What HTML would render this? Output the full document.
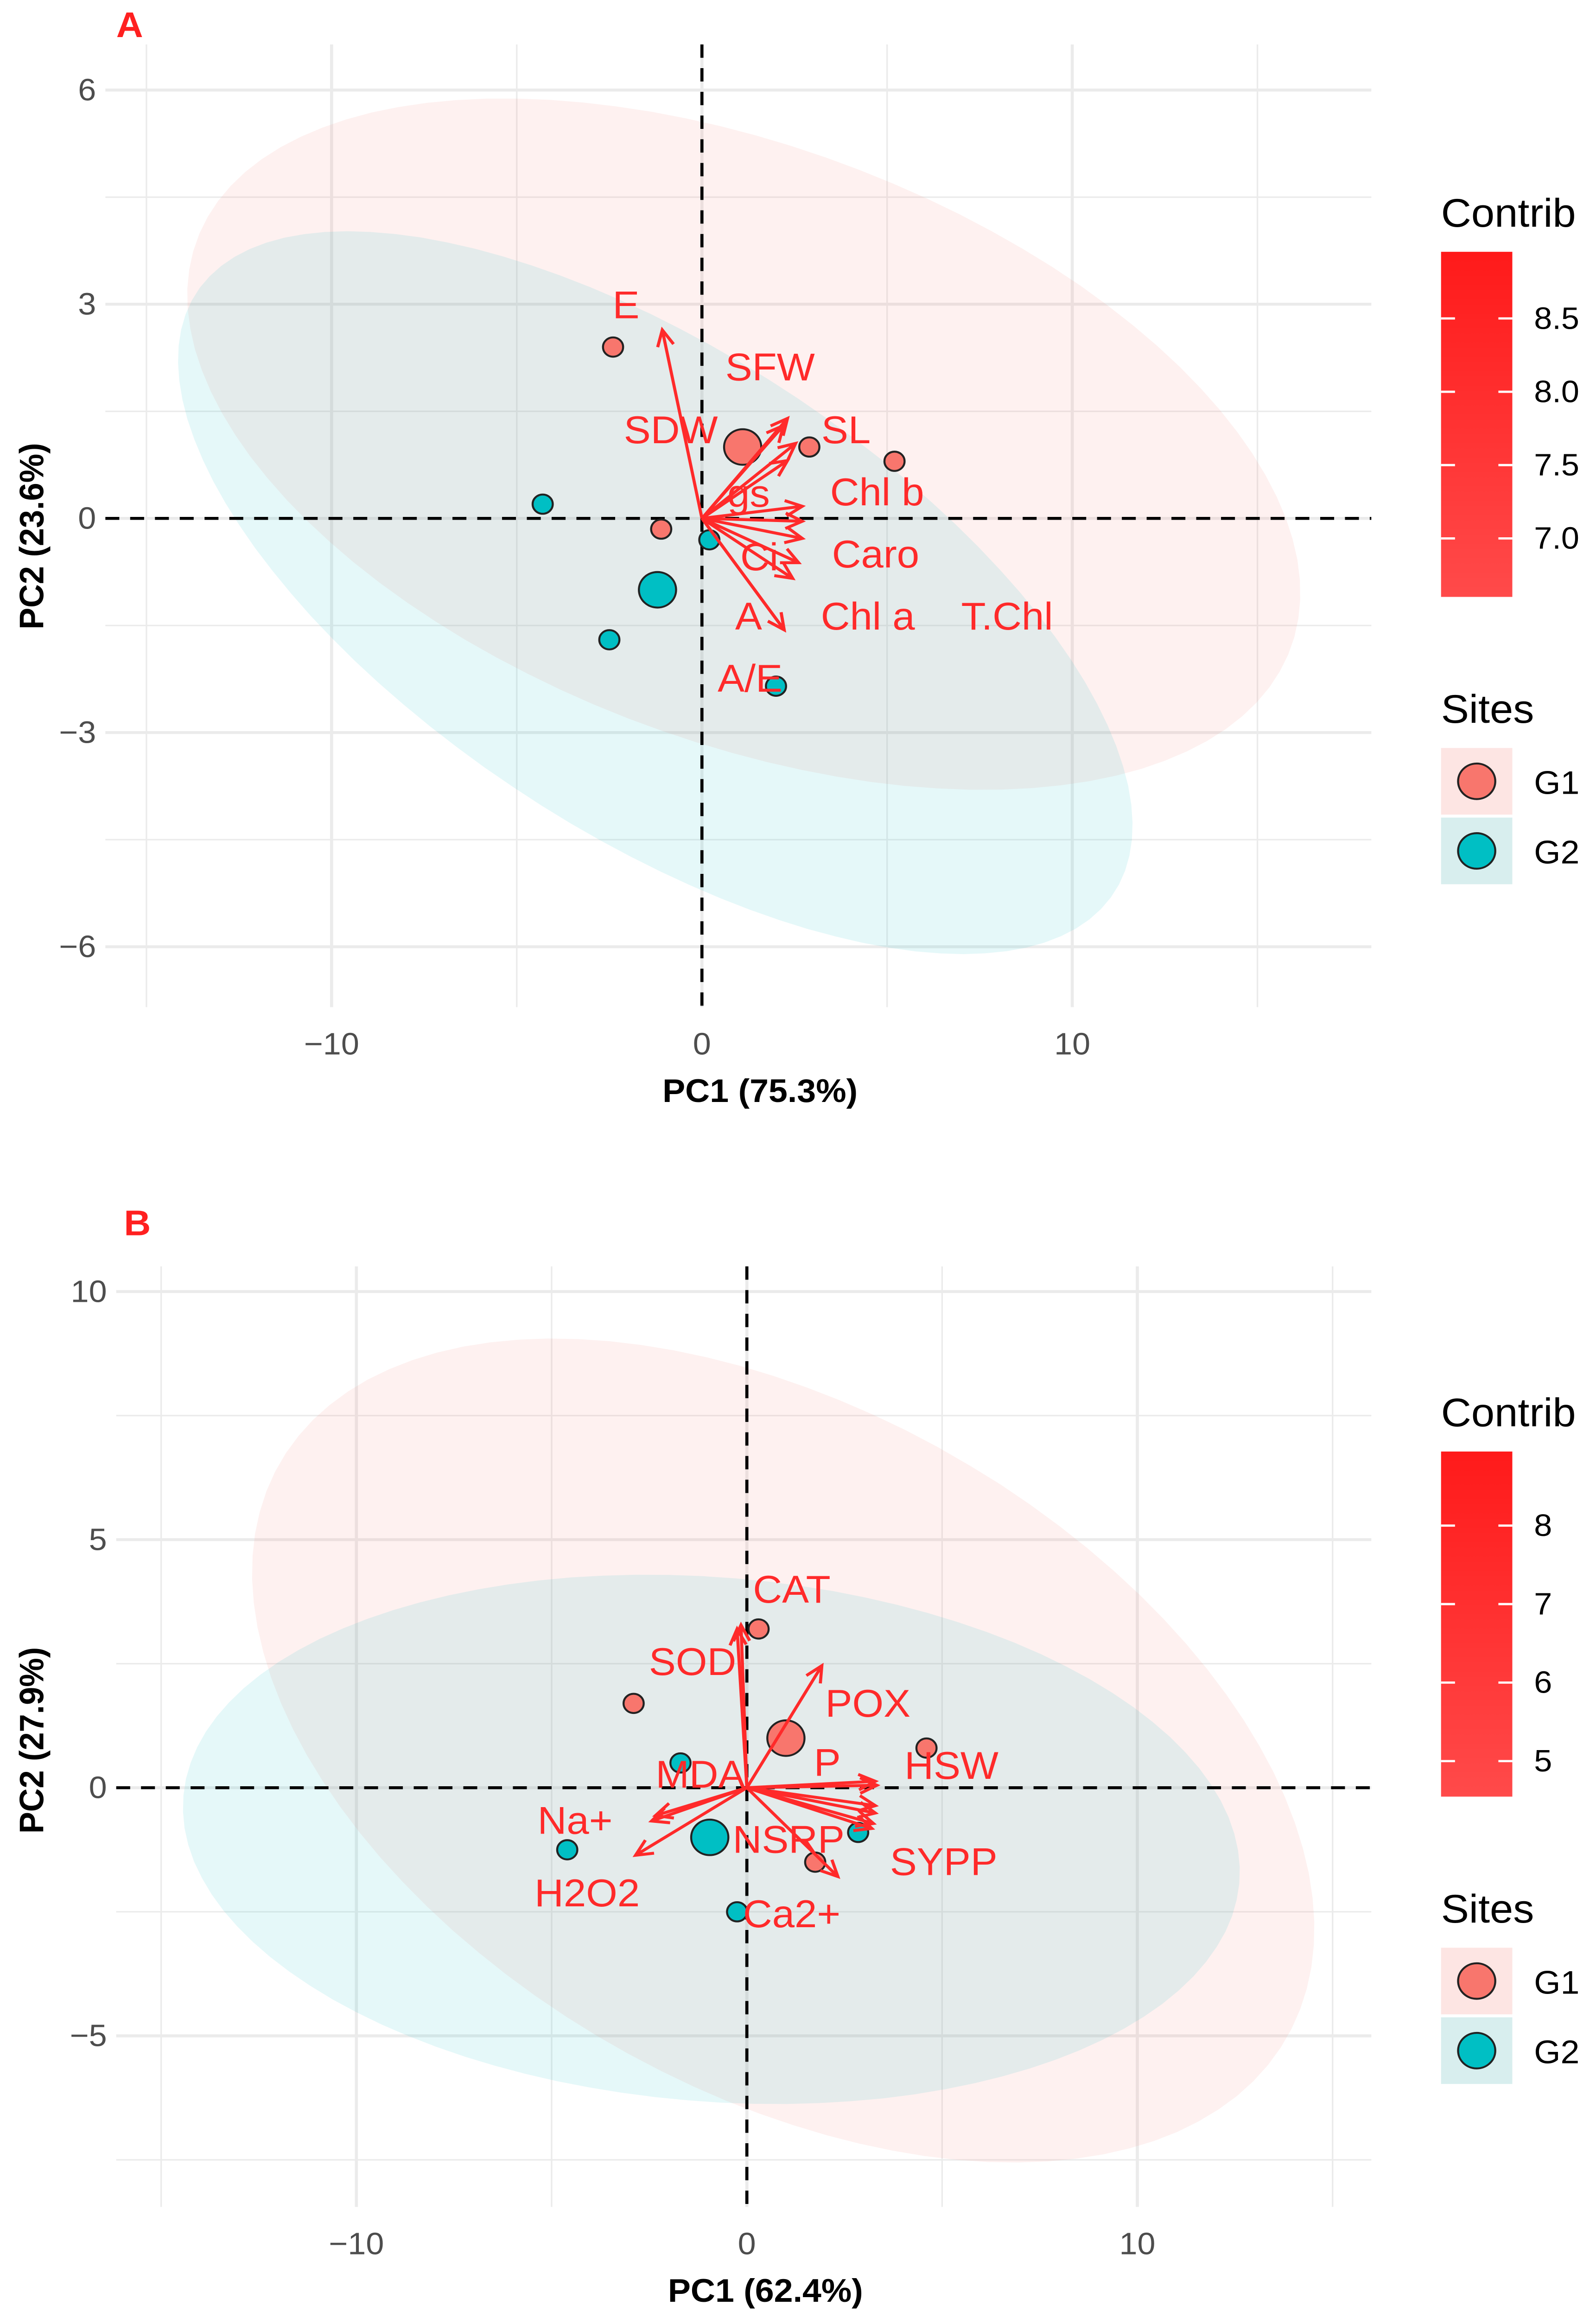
<!DOCTYPE html>
<html><head><meta charset="utf-8"><style>
html,body{margin:0;padding:0;background:#fff;width:100%;height:100%;overflow:hidden;}
svg{position:fixed;left:0;top:0;width:100vw;height:100vh;display:block;font-family:"Liberation Sans",Arial,sans-serif;}
</style></head>
<body>
<svg id="root" viewBox="0 0 1030 1565" preserveAspectRatio="none" xmlns="http://www.w3.org/2000/svg">
<defs>
<linearGradient id="cg" x1="0" y1="0" x2="0" y2="1"><stop offset="0" stop-color="#ff1a1a"/><stop offset="1" stop-color="#ff4a4a"/></linearGradient>
</defs>
</svg>
<script>
// ---------- Panel A data ----------
const aXTicks = [-10, 0, 10];
const aYTicks = [6, 3, 0, -3, -6];
const aG1X = [-2.4, 1.1, 2.9, 5.2, -1.1];
const aG1Y = [2.4, 1.0, 1.0, 0.8, -0.15];
const aG1Big = [0, 1, 0, 0, 0];
const aG2X = [-4.3, -1.2, -2.5, 0.2, 2.0];
const aG2Y = [0.2, -1.0, -1.7, -0.3, -2.35];
const aG2Big = [0, 1, 0, 0, 0];
const aVarNames = ["E", "SFW", "SDW", "SL", "gs", "Chl b", "T.Chl", "Chl a", "Caro", "Ci", "A", "A/E"];
const aVarX = [-1.07, 2.31, 2.2, 2.53, 2.31, 2.71, 2.71, 2.71, 2.61, 2.45, 2.22, 2.22];
const aVarY = [2.64, 1.40, 1.30, 1.05, 0.81, 0.17, -0.04, -0.28, -0.62, -0.84, -1.56, -1.56];
const aLabX = [-2.05, 1.84, -0.84, 3.89, 1.26, 4.73, 8.24, 4.48, 4.69, 1.55, 1.26, 1.30];
const aLabY = [2.99, 2.12, 1.24, 1.24, 0.35, 0.37, -1.37, -1.37, -0.50, -0.54, -1.37, -2.24];
const aContribTicks = [8.5, 8.0, 7.5, 7.0];
const aEllG1 = [1.13, 1.04, 14.7, -2.95, -3.13, -3.84];
const aEllG2 = [-1.26, -1.04, 12.3, -4.27, -3.85, -2.72];

// ---------- Panel B data ----------
const bXTicks = [-10, 0, 10];
const bYTicks = [10, 5, 0, -5];
const bG1X = [0.3, -2.9, 1.0, 4.6, 1.75];
const bG1Y = [3.2, 1.7, 1.0, 0.8, -1.5];
const bG1Big = [0, 0, 1, 0, 0];
const bG2X = [-1.7, -4.6, -0.95, 2.85, -0.25];
const bG2Y = [0.5, -1.25, -1.0, -0.9, -2.5];
const bG2Big = [0, 0, 1, 0, 0];
const bVarX = [-0.15, -0.25, 1.92, 3.29, 3.33, 3.29, 2.33, -2.34, -2.44, -2.85, 3.2, 3.24, 3.29];
const bVarY = [3.28, 3.2, 2.46, 0.13, 0.05, -0.36, -1.79, -0.56, -0.67, -1.36, -0.82, -0.72, -0.51];
const bLabNames = ["CAT", "SOD", "POX", "P", "HSW", "NSRP", "SYPP", "MDA", "Na+", "H2O2", "Ca2+"];
const bLabX = [1.15, -1.39, 3.1, 2.06, 5.24, 1.07, 5.04, -1.19, -4.4, -4.09, 1.15];
const bLabY = [4.0, 2.54, 1.7, 0.51, 0.45, -1.04, -1.49, 0.27, -0.66, -2.12, -2.54];
const bContribTicks = [8, 7, 6, 5];
const bEllG1 = [0.93, 0.75, 12.74, -5.99, -4.77, -5.75];
const bEllG2 = [-0.91, -1.04, 13.52, -0.89, -0.61, -5.26];

const NS = "http://www.w3.org/2000/svg";
const root = document.getElementById("root");
function mk(tag, attrs, parent) {
  const e = document.createElementNS(NS, tag);
  for (const k in attrs) e.setAttribute(k, attrs[k]);
  (parent || root).appendChild(e);
  return e;
}
function txt(s, attrs, parent) { const t = mk("text", attrs, parent); t.textContent = s; return t; }

function panel(cfg) {
  const g = mk("g", {});
  
  
  const sx = v => cfg.x0 + v * cfg.kx;
  const sy = v => cfg.y0 - v * cfg.ky;
  const grid = mk("g", {}, g);
  
  
  for (let v = cfg.xMinorStart; v <= cfg.xMax; v += cfg.xStep / 2) {
    const major = Math.abs(v / cfg.xStep - Math.round(v / cfg.xStep)) < 1e-6;
    mk("line", {x1: sx(v), x2: sx(v), y1: cfg.top, y2: cfg.bottom, stroke: "#ebebeb", "stroke-width": major ? 2 : 1}, grid);
  }
  for (let v = cfg.yMinorStart; v <= cfg.yMax; v += cfg.yStep / 2) {
    const major = Math.abs(v / cfg.yStep - Math.round(v / cfg.yStep)) < 1e-6;
    mk("line", {x1: cfg.left, x2: cfg.right, y1: sy(v), y2: sy(v), stroke: "#ebebeb", "stroke-width": major ? 2 : 1}, grid);
  }
  function ell(p, color, nm) {
    let d = "";
    for (let i = 0; i <= 100; i++) {
      const t = i / 100 * 2 * Math.PI;
      const x = p[0] + Math.cos(t) * p[2] + Math.sin(t) * p[4];
      const y = p[1] + Math.cos(t) * p[3] + Math.sin(t) * p[5];
      d += (i ? "L" : "M") + sx(x).toFixed(1) + "," + sy(y).toFixed(1);
    }
    const e = mk("path", {d: d + "Z", fill: color, "fill-opacity": 0.1}, g);
    
    
  }
  ell(cfg.e1, "#F8766D", "ellipse-g1");
  ell(cfg.e2, "#00BFC4", "ellipse-g2");
  mk("line", {x1: cfg.left, x2: cfg.right, y1: sy(0), y2: sy(0), stroke: "#000", "stroke-width": 2, "stroke-dasharray": "9,7"}, g);
  mk("line", {x1: sx(0), x2: sx(0), y1: cfg.top, y2: cfg.bottom, stroke: "#000", "stroke-width": 2, "stroke-dasharray": "9,7"}, g);
  cfg.xt.forEach(v => {
    const t = txt(v < 0 ? "\u2212" + Math.abs(v) : String(v), {x: sx(v), y: cfg.bottom + 32, "font-size": 21, fill: "#4d4d4d", "text-anchor": "middle"}, g);
    
    
  });
  cfg.yt.forEach(v => {
    const t = txt(v < 0 ? "\u2212" + Math.abs(v) : String(v), {x: cfg.left - 6, y: sy(v) + 7, "font-size": 21, fill: "#4d4d4d", "text-anchor": "end"}, g);
    
    
  });
  function pts(xs, ys, big, color, nm) {
    xs.forEach((x, i) => {
      const c = mk("circle", {cx: sx(x), cy: sy(ys[i]), r: big[i] ? 12 : 6.5, fill: color, stroke: "#222", "stroke-width": 1.3}, g);
      
      
    });
  }
  pts(cfg.g1x, cfg.g1y, cfg.g1b, "#F8766D", "point-g1");
  pts(cfg.g2x, cfg.g2y, cfg.g2b, "#00BFC4", "point-g2");
  const ox = sx(0), oy = sy(0);
  cfg.vx.forEach((vx, i) => {
    const x = sx(vx), y = sy(cfg.vy[i]);
    const ang = Math.atan2(y - oy, x - ox);
    const h = 12, w = 0.45;
    const a = mk("path", {d: `M${ox},${oy}L${x},${y}M${x - h * Math.cos(ang - w)},${y - h * Math.sin(ang - w)}L${x},${y}L${x - h * Math.cos(ang + w)},${y - h * Math.sin(ang + w)}`, stroke: "#ff2a2a", "stroke-width": 2, fill: "none"}, g);
    
    
  });
  cfg.ln.forEach((n, i) => {
    const t = txt(n, {x: sx(cfg.lx[i]), y: sy(cfg.ly[i]) + 9, "font-size": 26, fill: "#ff2a2a", "text-anchor": "middle"}, g);
    
    
  });
  let t = txt(cfg.xlab, {x: (cfg.left + cfg.right) / 2 + 14, y: cfg.bottom + 64, "font-size": 22, "font-weight": "bold", fill: "#000", "text-anchor": "middle"}, g);
   
  t = txt(cfg.ylab, {x: 0, y: 0, "font-size": 22, "font-weight": "bold", fill: "#000", "text-anchor": "middle", transform: `translate(28,${cfg.ylabY}) rotate(-90)`}, g);
   
  t = txt(cfg.tag, {x: cfg.tagX, y: cfg.tagY, "font-size": 24, "font-weight": "bold", fill: "#ff2020"}, g);
   
  const L = cfg.leg;
  t = txt("Contrib", {x: 930, y: L + 10, "font-size": 27, fill: "#000"}, g);
   
  const bar = mk("rect", {x: 930, y: L + 27, width: 46, height: 233, fill: "url(#cg)"}, g);
   
  cfg.ct.forEach((v, i) => {
    const yy = L + 27 + cfg.ctPos(v);
    mk("line", {x1: 930, x2: 939, y1: yy, y2: yy, stroke: "#fff", "stroke-width": 1.5}, g);
    mk("line", {x1: 967, x2: 976, y1: yy, y2: yy, stroke: "#fff", "stroke-width": 1.5}, g);
    const tt = txt(cfg.ctFmt(v), {x: 990, y: yy + 7, "font-size": 21, fill: "#000"}, g);
     
  });
  t = txt("Sites", {x: 930, y: L + 345, "font-size": 27, fill: "#000"}, g);
   
  [["G1", "#F8766D", "#fde5e3"], ["G2", "#00BFC4", "#d8eeee"]].forEach((s, i) => {
    const yy = L + 362 + i * 47;
    const k = mk("rect", {x: 930, y: yy, width: 46, height: 45, fill: s[2]}, g);
     
    mk("circle", {cx: 953, cy: yy + 22.5, r: 12, fill: s[1], stroke: "#222", "stroke-width": 1.3}, g);
    const tt = txt(s[0], {x: 990, y: yy + 31, "font-size": 22, fill: "#000"}, g);
     
  });
}

panel({name: "panel-a", x0: 453, y0: 350, kx: 23.9, ky: 48.2,
  left: 68, right: 885, top: 30, bottom: 680,
  xMinorStart: -15, xMax: 15, xStep: 10, yMinorStart: -6, yMax: 6, yStep: 3,
  e1: aEllG1, e2: aEllG2, xt: aXTicks, yt: aYTicks,
  g1x: aG1X, g1y: aG1Y, g1b: aG1Big, g2x: aG2X, g2y: aG2Y, g2b: aG2Big,
  vx: aVarX, vy: aVarY, ln: aVarNames, lx: aLabX, ly: aLabY,
  xlab: "PC1 (75.3%)", ylab: "PC2 (23.6%)", ylabY: 362, tag: "A", tagX: 75, tagY: 25,
  leg: 143, ct: aContribTicks, ctPos: v => 45 + (8.5 - v) * 99, ctFmt: v => v.toFixed(1)});

panel({name: "panel-b", x0: 482, y0: 1207, kx: 25.2, ky: 33.5,
  left: 75, right: 885, top: 855, bottom: 1490,
  xMinorStart: -15, xMax: 15, xStep: 10, yMinorStart: -7.5, yMax: 10, yStep: 5,
  e1: bEllG1, e2: bEllG2, xt: bXTicks, yt: bYTicks,
  g1x: bG1X, g1y: bG1Y, g1b: bG1Big, g2x: bG2X, g2y: bG2Y, g2b: bG2Big,
  vx: bVarX, vy: bVarY, ln: bLabNames, lx: bLabX, ly: bLabY,
  xlab: "PC1 (62.4%)", ylab: "PC2 (27.9%)", ylabY: 1175, tag: "B", tagX: 80, tagY: 834,
  leg: 953, ct: bContribTicks, ctPos: v => 50 + (8 - v) * 53, ctFmt: v => String(v)});
</script>
</body></html>
